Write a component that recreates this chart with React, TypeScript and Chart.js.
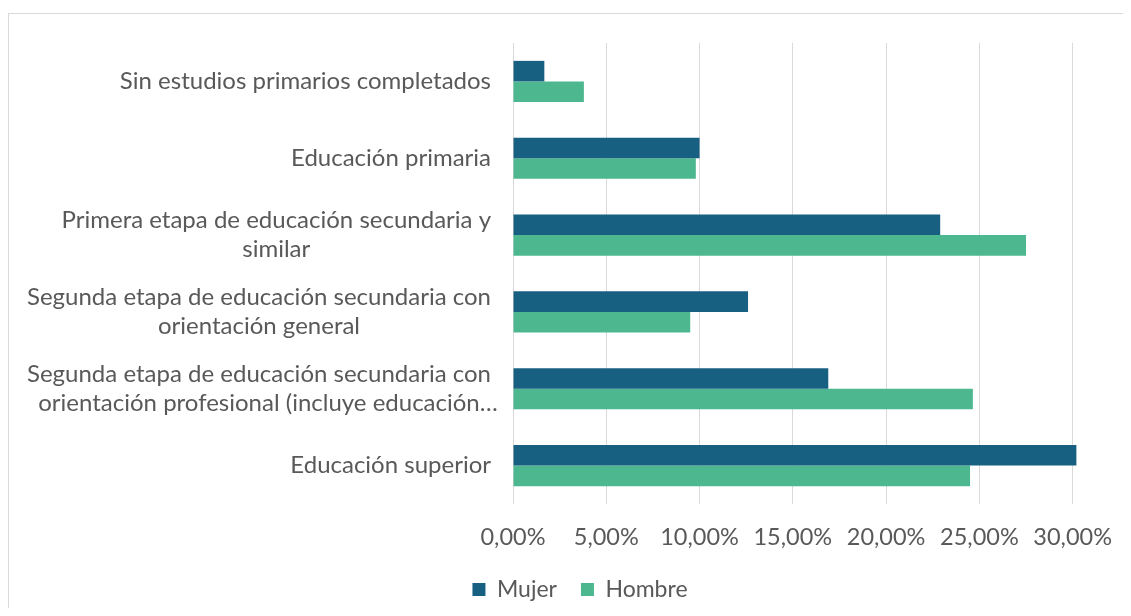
import React, { useEffect, useRef } from "react";
import { Chart, registerables } from "chart.js";

Chart.register(...registerables);

const categories: (string | string[])[] = [
  "Sin estudios primarios completados",
  "Educación primaria",
  ["Primera etapa de educación secundaria y", "similar"],
  ["Segunda etapa de educación secundaria con", "orientación general"],
  ["Segunda etapa de educación secundaria con", "orientación profesional (incluye educación…"],
  "Educación superior",
];

const mujer = [0.0168, 0.1, 0.229, 0.126, 0.169, 0.302];
const hombre = [0.038, 0.098, 0.275, 0.095, 0.2465, 0.245];

const xTicksMin = 0;
const xTicksMax = 0.3;
const xStep = 0.05;

const TEXT = "#595959";
const FONT = "Lato, 'Open Sans', sans-serif";
const Y_FONT_SIZE = 24;
const Y_LINE_HEIGHT = 29;
const Y_LABEL_GAP = 22;

// Draws the category labels: single lines right-aligned, wrapped lines centred on each other.
const categoryLabelPlugin = {
  id: "categoryLabels",
  afterDraw(chart: any) {
    const scale = chart.scales.y;
    const ctx = chart.ctx as CanvasRenderingContext2D;
    const labels = chart.data.labels as (string | string[])[];
    ctx.save();
    ctx.font = `${Y_FONT_SIZE}px ${FONT}`;
    ctx.fillStyle = TEXT;
    ctx.textBaseline = "middle";
    ctx.textAlign = "left";
    const right = scale.right - Y_LABEL_GAP;
    labels.forEach((lab, i) => {
      const lines = Array.isArray(lab) ? lab : [lab];
      const core = lines.map((l) => l.replace(/…$/, ""));
      const widths = core.map((l) => ctx.measureText(l).width);
      const maxW = Math.max(...widths);
      const cx = right - maxW / 2;
      const yc = scale.getPixelForTick(i);
      lines.forEach((line, j) => {
        const y = yc + (j - (lines.length - 1) / 2) * Y_LINE_HEIGHT;
        ctx.fillText(line, cx - widths[j] / 2, y);
      });
    });
    ctx.restore();
  },
};

export default function App() {
  const ref = useRef<HTMLCanvasElement | null>(null);

  useEffect(() => {
    if (!ref.current) return;
    const chart = new Chart(ref.current, {
      type: "bar",
      data: {
        labels: categories,
        datasets: [
          {
            label: "Mujer",
            data: mujer,
            backgroundColor: "#186082",
            categoryPercentage: 0.535,
            barPercentage: 1,
          },
          {
            label: "Hombre",
            data: hombre,
            backgroundColor: "#4db78f",
            categoryPercentage: 0.535,
            barPercentage: 1,
          },
        ],
      },
      options: {
        indexAxis: "y",
        animation: false,
        responsive: false,
        maintainAspectRatio: false,
        layout: { padding: { top: 29, right: 40, bottom: 6, left: 60 } },
        datasets: { bar: { clip: false } as any },
        scales: {
          x: {
            min: xTicksMin,
            max: xTicksMax,
            grid: { color: "#d9d9d9", drawTicks: false },
            border: { display: false },
            ticks: {
              stepSize: xStep,
              padding: 19,
              color: TEXT,
              font: { family: FONT, size: 23.5 },
              callback: (v: any) => (Number(v) * 100).toFixed(2).replace(".", ",") + "%",
            },
            afterFit: (s: any) => {
              s.height = 50;
            },
          },
          y: {
            grid: { display: false, drawTicks: false },
            border: { display: false },
            ticks: { display: false },
            afterFit: (s: any) => {
              s.width = 444;
            },
          },
        },
        plugins: {
          legend: {
            position: "bottom",
            labels: {
              boxWidth: 13,
              boxHeight: 13,
              padding: 24,
              color: TEXT,
              font: { family: FONT, size: 23 },
            },
          },
          tooltip: { enabled: false },
        },
      },
      plugins: [categoryLabelPlugin],
    });
    return () => chart.destroy();
  }, []);

  return (
    <div style={{ width: 1123, height: 608, marginBottom: -8, overflow: "hidden" }}>
      <div
        style={{
          marginTop: 5,
          width: 1140,
          height: 640,
          border: "1px solid #d9d9d9",
          boxSizing: "border-box",
        }}
      >
        <canvas ref={ref} width={1122} height={603} style={{ display: "block" }} />
      </div>
    </div>
  );
}
